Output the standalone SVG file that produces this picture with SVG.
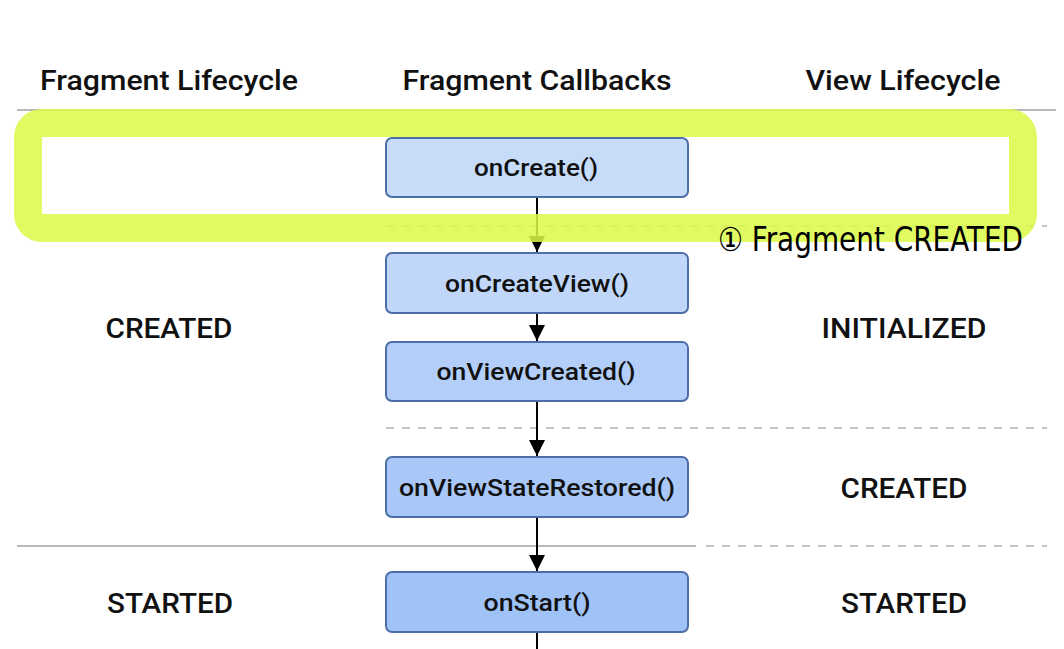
<svg xmlns="http://www.w3.org/2000/svg" width="1064" height="649" viewBox="0 0 1064 649">
<style>
.hdr{font-family:Roboto,"Liberation Sans",sans-serif;font-weight:500;font-size:28px;fill:#111;text-anchor:middle}
.lbl{font-family:Roboto,"Liberation Sans",sans-serif;font-weight:500;font-size:27px;fill:#111;text-anchor:middle}
.btxt{font-family:Roboto,"Liberation Sans",sans-serif;font-weight:500;font-size:24px;fill:#111;text-anchor:middle}
.box{stroke:#4d6ea8;stroke-width:2}
.solid{stroke:#b8b8b8;stroke-width:2}
.dash{stroke:#c4c4c4;stroke-width:2;stroke-dasharray:8 8}
.conn{stroke:#000;stroke-width:2;fill:none}
</style>
<defs>
<marker id="ah2" markerWidth="16" markerHeight="16" refX="16" refY="8" orient="auto" markerUnits="userSpaceOnUse" viewBox="0 0 16 16">
<path d="M0,0 L16,8 L0,16 z" fill="#000"/>
</marker>
</defs>
<rect width="1064" height="649" fill="#fff"/>
<g id="headers">
<text class="hdr" x="169" y="90" textLength="258" lengthAdjust="spacingAndGlyphs">Fragment Lifecycle</text>
<text class="hdr" x="537" y="90" textLength="269" lengthAdjust="spacingAndGlyphs">Fragment Callbacks</text>
<text class="hdr" x="903" y="90" textLength="195" lengthAdjust="spacingAndGlyphs">View Lifecycle</text>
</g>
<g id="separators">
<line class="solid" x1="17" y1="110" x2="1056" y2="110"/>
<line class="dash" x1="386" y1="226" x2="1047" y2="226"/>
<line class="dash" x1="386" y1="428" x2="1047" y2="428"/>
<line class="solid" x1="17" y1="546" x2="696" y2="546"/>
<line class="dash" x1="706" y1="546" x2="1047" y2="546"/>
</g>
<g id="states">
<text class="lbl" x="169" y="338" textLength="127" lengthAdjust="spacingAndGlyphs">CREATED</text>
<text class="lbl" x="904" y="338" textLength="165" lengthAdjust="spacingAndGlyphs">INITIALIZED</text>
<text class="lbl" x="904" y="498" textLength="127" lengthAdjust="spacingAndGlyphs">CREATED</text>
<text class="lbl" x="170" y="613" textLength="126" lengthAdjust="spacingAndGlyphs">STARTED</text>
<text class="lbl" x="904" y="613" textLength="126" lengthAdjust="spacingAndGlyphs">STARTED</text>
</g>
<g id="connectors">
<line class="conn" x1="537" y1="197" x2="537" y2="252" marker-end="url(#ah2)"/>
<line class="conn" x1="537" y1="313" x2="537" y2="341" marker-end="url(#ah2)"/>
<line class="conn" x1="537" y1="401" x2="537" y2="456" marker-end="url(#ah2)"/>
<line class="conn" x1="537" y1="517" x2="537" y2="571" marker-end="url(#ah2)"/>
<line class="conn" x1="537" y1="632" x2="537" y2="649"/>
</g>
<g id="onCreate">
<rect class="box" x="386" y="138" width="302" height="59" rx="6" fill="#c7dcf9"/>
<text class="btxt" x="536" y="176" textLength="124" lengthAdjust="spacingAndGlyphs">onCreate()</text>
</g>
<g id="onCreateView">
<rect class="box" x="386" y="253" width="302" height="60" rx="6" fill="#c0d7fa"/>
<text class="btxt" x="537" y="292" textLength="184" lengthAdjust="spacingAndGlyphs">onCreateView()</text>
</g>
<g id="onViewCreated">
<rect class="box" x="386" y="342" width="302" height="59" rx="6" fill="#b3cff9"/>
<text class="btxt" x="536" y="380" textLength="199" lengthAdjust="spacingAndGlyphs">onViewCreated()</text>
</g>
<g id="onViewStateRestored">
<rect class="box" x="386" y="457" width="302" height="60" rx="6" fill="#a9c8f8"/>
<text class="btxt" x="537" y="496" textLength="276" lengthAdjust="spacingAndGlyphs">onViewStateRestored()</text>
</g>
<g id="onStart">
<rect class="box" x="386" y="572" width="302" height="60" rx="6" fill="#9fc2f7"/>
<text class="btxt" x="537" y="611" textLength="107" lengthAdjust="spacingAndGlyphs">onStart()</text>
</g>
<g id="highlight">
<rect x="28" y="123" width="995" height="105" rx="14" fill="none" stroke="#d9fa45" stroke-opacity="0.85" stroke-width="28"/>
</g>
<g id="annotation">
<text x="718" y="251" font-family="'DejaVu Sans Condensed','DejaVu Sans',sans-serif" font-size="33" fill="#000" textLength="305" lengthAdjust="spacingAndGlyphs">① Fragment CREATED</text>
</g>
</svg>
